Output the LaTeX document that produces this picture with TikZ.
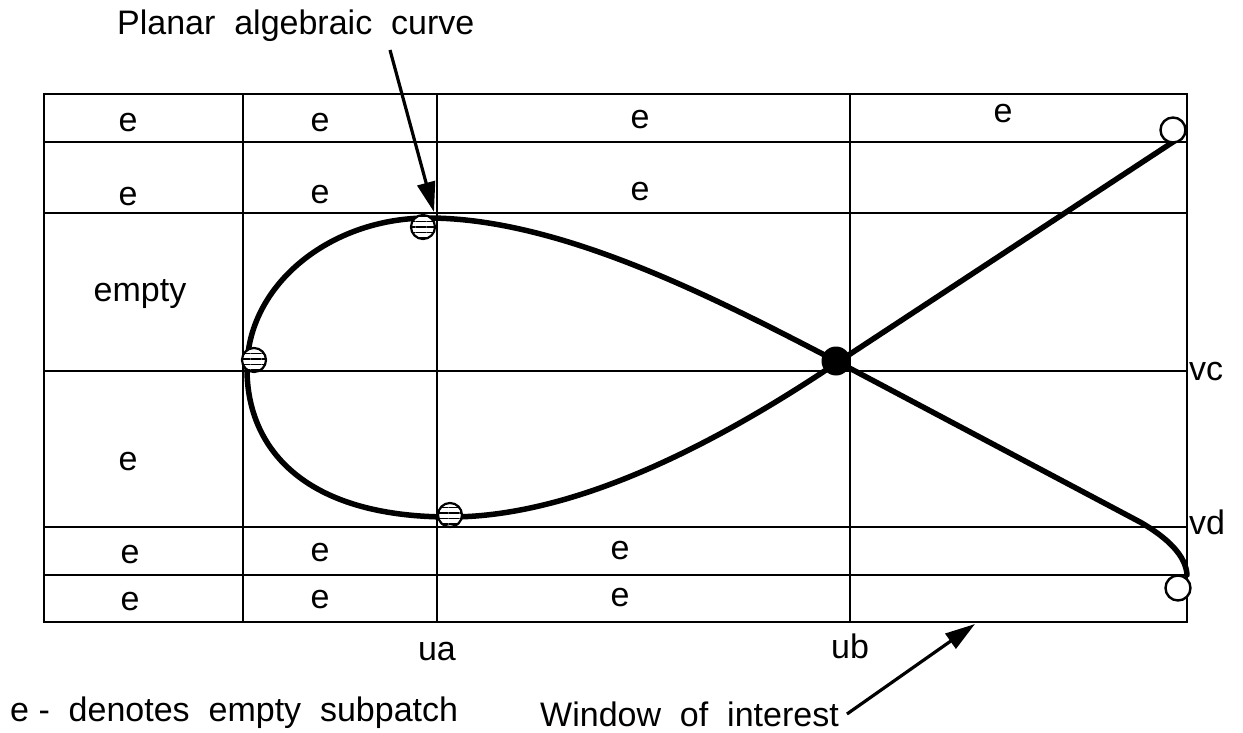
\documentclass[tikz,border=0pt]{standalone}
\usepackage{fontspec}
\setmainfont{Liberation Sans}
\usetikzlibrary{arrows.meta, patterns.meta, positioning}
\tikzstyle{gridline} = [line width=2.8pt, black]
\tikzstyle{curveline} = [line width=5.5pt, black, line join=round, line cap=round]
\tikzstyle{cell} = [font=\fontsize{34}{40}\selectfont, inner sep=0pt]
\tikzstyle{hatched} = [circle, draw, line width=2.2pt, minimum size=24pt, inner sep=0pt, preaction={fill=white}, pattern={Lines[angle=0, distance=5.5pt, line width=1.8pt]}]
\tikzstyle{hollow} = [circle, draw, line width=2.4pt, minimum size=25pt, inner sep=0pt, fill=white]
\tikzstyle{crossing} = [circle, fill=black, minimum size=29pt, inner sep=0pt]
\tikzstyle{arrow} = [line width=3.2pt, -{Triangle[length=30pt, width=18pt]}]

\begin{document}
\begin{tikzpicture}[x=1pt, y=-1pt]
    \useasboundingbox (0,0) rectangle (1243,733);

    % window of interest and its subpatches
    \draw[gridline] (44,94) rectangle (1187,622);
    \foreach \y in {142,213,371,527,575}
        \draw[gridline] (44,\y) -- (1187,\y);
    \foreach \x in {243,437,850}
        \draw[gridline] (\x,94) -- (\x,622);

    % the curve
    \draw[curveline] (1176,140) -- (838,362)
        .. controls (700,455) and (565,517) .. (450,517)
        .. controls (300,517) and (247,445) .. (247,369)
        .. controls (247,285) and (330,218) .. (428,218)
        .. controls (560,218) and (715,298) .. (838,362)
        -- (1140,522) .. controls (1168,538) and (1186,556) .. (1187,575);

    % characteristic points
    \node (ptop) [hatched] at (423,227) {};
    \node (pleft) [hatched] at (254,360) {};
    \node (pbot) [hatched] at (450,515) {};
    \node (pcross) [crossing] at (836,361) {};
    \node (pend1) [hollow] at (1173,130) {};
    \node (pend2) [hollow] at (1178,588) {};

    % empty subpatches
    \node (e11) [cell] at (128,123) {e};
    \node (e12) [cell] at (320,123) {e};
    \node (e13) [cell] at (640,120) {e};
    \node (e14) [cell] at (1003,114) {e};
    \node (e21) [cell] at (128,197) {e};
    \node (e22) [cell] at (320,195) {e};
    \node (e23) [cell] at (640,192) {e};
    \node (empty) [cell] at (140,294) {empty};
    \node (e41) [cell] at (128,462) {e};
    \node (e51) [cell] at (130,555) {e};
    \node (e52) [cell] at (320,553) {e};
    \node (e53) [cell] at (620,551) {e};
    \node (e61) [cell] at (130,602) {e};
    \node (e62) [cell] at (320,600) {e};
    \node (e63) [cell] at (620,598) {e};

    % grid values
    \node (vc) [cell, anchor=west] at (1189,372) {vc};
    \node (vd) [cell, anchor=west] at (1189,522) {vd};
    \node (ua) [cell] at (437,652) {ua};
    \node (ub) [cell] at (850,646) {ub};

    % captions
    \node (curve) [cell, anchor=west] at (117,26) {Planar\ \ algebraic\ \ curve};
    \node (legend) [cell, anchor=west] at (10,713) {e\ -\ \ denotes\ \ empty\ \ subpatch};
    \node (window) [cell, anchor=west] at (540,714) {Window\ \ of\ \ interest};
    \coordinate (winpt) at (975,624);
    \coordinate (toppt) at (434,212);

    \draw[arrow] (390,50) -- (toppt);
    \draw[arrow] (window.east) ++(8,0) -- (winpt);
\end{tikzpicture}
\end{document}
